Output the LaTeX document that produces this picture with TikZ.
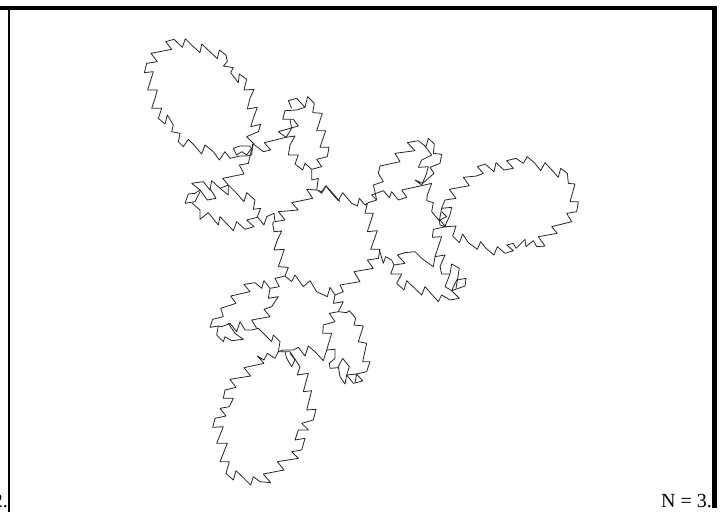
\documentclass[tikz,border=0pt]{standalone}
\usepackage{fontspec}
\setmainfont{Liberation Serif}
\tikzset{
  zone/.style 2 args={shift={(#1,#2)},x=0.33333pt,y=-0.33333pt},
  curve/.style={draw=black!85,line width=0.8pt,line join=round},
  bar/.style={fill=black,draw=none},
  caption/.style={inner sep=0pt,anchor=base east,font=\fontsize{20}{24}\selectfont}
}
\begin{document}
\begin{tikzpicture}[x=1pt,y=-1pt]
\useasboundingbox (0,0) rectangle (728,512);
\clip (0,0) rectangle (728,512);
\fill[bar] (0,6) rectangle (717,10);
\fill[bar] (8,6) rectangle (10,512);
\fill[bar] (712,6) rectangle (717,508);
\node[caption] (n) at (712,507) {N = 3.};
\node[caption] (two) at (8,507) {2.};
% upper-left group
\begin{scope}[zone={120}{20}]
\draw[curve] plot coordinates {(402,372)(380,350)(415,335)(422,313)(392,320)(400,295)(412,262)(382,267)(390,235)(402,208)(372,210)(380,178)(358,162)(355,188)(332,158)(340,143)(310,138)(322,125)(318,105)(298,90)(292,116)(275,100)(245,72)(240,98)(218,78)(196,56)(187,82)(162,58)(137,65)(155,88)(93,100)(112,125)(80,130)(73,158)(100,155)(83,210)(112,210)(105,235)(95,265)(125,265)(115,295)(135,312)(142,285)(160,315)(155,335)(180,340)(175,365)(190,380)(205,358)(222,375)(245,402)(255,375)(280,395)(298,420)(315,395)(330,415)(360,408)(380,408)(395,405)(398,372)};
\draw[curve] plot coordinates {(340,385)(360,378)(388,378)(395,385)(380,405)(365,395)(350,405)(340,385)};
\draw[curve] plot coordinates {(400,372)(392,400)(385,430)(358,435)(372,462)(308,475)(325,495)(350,520)(372,545)(380,518)(405,540)(400,568)(422,565)(412,590)(432,615)(440,590)(462,580)(465,605)(495,600)(475,575)(535,570)(515,548)(578,535)(560,508)(590,510)};
\draw[curve] plot coordinates {(400,372)(430,395)(452,390)(433,368)(498,352)(475,335)(510,325)(535,318)(520,298)(488,298)(495,272)(530,270)(555,262)(530,235)(505,242)(515,265)};
\draw[curve] plot coordinates {(555,262)(563,230)(583,250)(578,278)(607,280)(590,332)(617,332)(600,382)(627,382)(622,410)(590,418)(605,440)(575,448)(575,480)(595,475)(590,510)(605,515)(618,497)(640,522)(660,545)};
\draw[curve] plot coordinates {(498,352)(525,348)(510,375)(505,405)(535,405)(525,432)(548,450)(555,430)(575,448)};
\draw[curve] plot coordinates {(498,352)(515,325)(510,298)};
\draw[curve] plot coordinates {(325,495)(300,505)(275,482)(270,510)(250,485)(215,490)(240,510)(262,540)(288,535)(270,505)};
\draw[curve] plot coordinates {(240,510)(225,520)(205,522)(195,550)(225,545)(240,515)};
\draw[curve] plot coordinates {(215,548)(240,570)(240,598)(265,578)(295,615)(300,590)(340,632)(350,605)(375,628)(402,620)(380,600)(412,592)};
\draw[curve] plot coordinates {(300,505)(325,525)(325,495)};
\end{scope}
% central blob
\begin{scope}[zone={250}{170}]
\draw[curve] plot coordinates {(72,155)(68,160)(72,185)(95,183)(82,210)(72,240)(103,238)(85,290)(115,292)(105,318)(125,335)(135,315)(160,350)(180,332)(200,365)(232,380)(240,352)(255,375)(280,365)(270,345)(330,335)(312,305)(370,295)(352,270)(385,265)(390,238)(362,238)(382,182)(352,185)(370,130)(345,130)(352,100)(345,105)(328,85)(322,108)(305,100)(278,68)(265,92)(245,70)(228,48)(215,70)(205,62)};
\end{scope}
% right group
\begin{scope}[zone={350}{120}]
\draw[curve] plot coordinates {(45,255)(55,248)(80,240)(65,225)(100,212)(118,233)(125,215)(145,240)(170,232)(155,210)(215,197)(245,190)(232,225)(230,242)(250,248)(245,275)(268,302)(270,315)(288,320)(250,328)(247,352)(275,350)(265,380)(255,410)(250,440)(215,415)(195,395)(165,398)(142,405)(165,430)(132,435)(125,420)(107,410)(100,430)(88,390)};
\draw[curve] plot coordinates {(80,240)(70,195)(100,185)(85,160)(90,138)(150,125)(135,100)(195,92)(172,68)(205,62)(228,80)(235,55)(253,72)(250,100)(275,103)(270,130)(240,142)(252,160)(218,190)(195,180)(215,195)};
\draw[curve] plot coordinates {(225,78)(245,105)(215,120)(205,142)(235,140)(228,165)(215,195)};
\draw[curve] plot coordinates {(132,435)(122,462)(155,462)(140,490)(162,510)(170,482)(215,525)(225,500)(265,545)(275,525)(300,540)(328,535)(305,512)(345,498)(348,475)(320,480)(305,512)};
\draw[curve] plot coordinates {(255,410)(285,405)(270,440)(275,462)(300,462)(305,432)(328,445)(318,505)};
\draw[curve] plot coordinates {(300,462)(285,500)(305,512)};
\draw[curve] plot coordinates {(268,302)(275,265)(285,240)(318,235)(298,208)(358,197)(340,172)(380,168)(400,160)(382,140)(405,132)(432,155)(438,128)(462,150)(490,145)(470,122)(498,115)(520,130)(532,110)(555,130)(572,152)(585,128)(610,155)(625,172)(632,145)(652,160)(655,190)(675,192)(660,245)(685,245)(680,275)(650,280)(665,305)(605,320)(622,340)(565,350)(585,378)(560,380)(550,362)(528,380)(525,358)(498,385)(490,370)(470,375)(490,392)(465,400)(442,380)(432,405)(408,385)(392,365)(382,388)(355,368)(338,342)(328,368)(308,348)(318,318)(288,320)};
\draw[curve] plot coordinates {(275,265)(305,262)(300,285)(285,318)(270,300)(290,290)(275,275)};
\end{scope}
% lower group
\begin{scope}[zone={190}{270}]
\draw[curve] plot coordinates {(435,75)(430,100)(460,95)(445,125)(418,130)(435,155)(400,165)(398,190)(425,190)(410,240)(400,272)(375,245)(355,228)(345,258)(325,232)(310,240)(280,240)(265,245)(270,215)(250,195)(245,215)(225,195)(205,175)(185,180)(165,180)(150,155)(140,185)(120,160)(95,170)(85,168)};
\draw[curve] plot coordinates {(285,18)(255,25)(268,50)(240,55)(222,32)(215,55)(195,38)(162,43)(180,65)(122,78)(138,100)(92,115)(100,140)(68,148)(60,172)(85,168)(80,195)(100,215)(105,200)(125,212)(160,208)(135,190)(115,160)};
\draw[curve] plot coordinates {(240,55)(235,85)(265,80)(245,110)(222,118)(240,140)(185,150)(200,175)};
\draw[curve] plot coordinates {(445,125)(470,128)(478,122)(497,145)(492,165)(520,168)(505,215)(530,220)(518,275)(540,275)(530,305)(500,312)(518,333)(490,340)(470,315)(478,290)(458,265)(445,290)(450,320)(465,342)(470,315)};
\draw[curve] plot coordinates {(410,240)(435,238)(435,265)(418,280)(420,295)(445,293)};
\draw[curve] plot coordinates {(470,315)(500,312)(495,338)};
\draw[curve] plot coordinates {(265,245)(255,265)(232,250)(222,270)(202,258)(222,280)(162,293)(182,318)(120,328)(138,352)(105,360)(100,385)(130,385)(118,410)(90,415)(108,438)(75,445)(68,472)(100,470)(80,520)(112,520)(90,575)(118,575)(108,610)(130,630)(138,602)(165,628)(182,645)(190,620)(210,635)(242,638)(220,612)(282,600)(262,575)(325,565)(305,545)(335,540)(345,505)(315,510)(325,480)(355,480)(335,460)(370,450)(378,418)(350,420)(365,362)(340,365)(355,310)(322,315)(330,290)(300,245)(265,245)};
\draw[curve] plot coordinates {(285,245)(290,265)(305,290)(315,270)(300,250)};
\end{scope}
\end{tikzpicture}
\end{document}
